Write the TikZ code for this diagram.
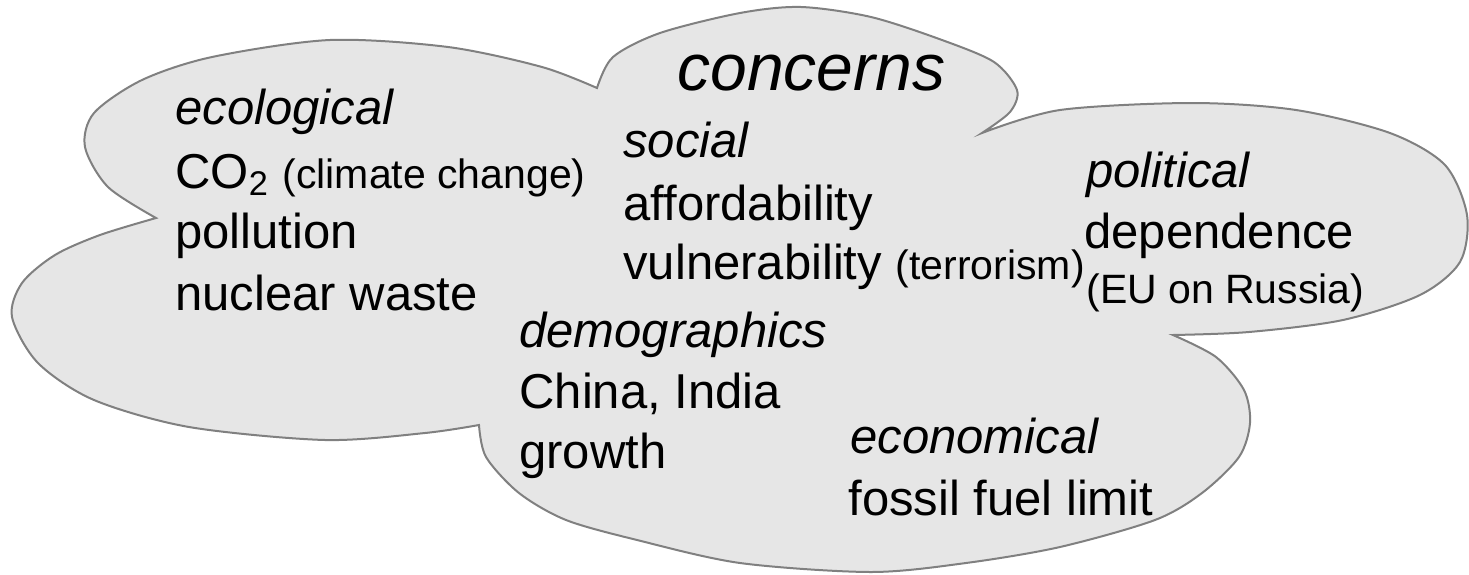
\documentclass[tikz,border=0pt]{standalone}
\usepackage{fontspec}
\setmainfont{Liberation Sans}
\usepackage{tikz}

\definecolor{cloudfill}{RGB}{230,230,230}
\definecolor{cloudline}{RGB}{128,128,128}
\tikzset{
  head/.style={anchor=base west, inner sep=0pt, font=\fontsize{24.5}{29}\selectfont\itshape},
  item/.style={anchor=base west, inner sep=0pt, font=\fontsize{24.5}{29}\selectfont},
}
\newcommand{\smalltxt}[1]{{\fontsize{20.5}{24}\selectfont #1}}

\begin{document}
\begin{tikzpicture}[x=0.5pt,y=-0.5pt]
  \useasboundingbox (0,0) rectangle (1469,574);

  % Wolke
  \filldraw[fill=cloudfill, draw=cloudline, line width=1pt]
    plot[smooth] coordinates {(156,218) (108,187) (85,147) (94,113) (142,80)
      (212,57) (330,40) (448,47) (542,67) (597,88)}
    -- plot[smooth] coordinates {(597,88) (613,57) (660,33) (740,13) (801,7)
      (871,17) (942,40) (994,62) (1017,90) (1010,112) (982,133)}
    -- plot[smooth] coordinates {(982,133) (1060,110) (1192,103) (1296,110)
      (1390,133) (1445,165) (1467,215) (1460,262) (1420,295) (1343,320)
      (1249,332) (1173,335)}
    -- plot[smooth] coordinates {(1173,335) (1216,357) (1244,390) (1250,423)
      (1239,457) (1202,493) (1155,520) (1060,547) (966,563) (871,572)
      (740,563) (637,540) (566,520) (519,493) (486,457) (479,425)}
    -- plot[smooth] coordinates {(479,425) (425,433) (325,440) (189,427)
      (94,400) (38,363) (12,317) (22,283) (55,255) (100,235) (156,218)}
    -- cycle;

  \node[head, font=\fontsize{33}{40}\selectfont\itshape] (title) at (677,90) {concerns};

  \node[head] (eco) at (175,124) {ecological};
  \node[item] (co2) at (175,188) {CO\textsubscript{2} \smalltxt{(climate change)}};
  \node[item] (poll) at (175,248) {pollution};
  \node[item] (waste) at (175,310) {nuclear waste};

  \node[head] (soc) at (623,157) {social};
  \node[item] (afford) at (623,220) {affordability};
  \node[item] (vuln) at (623,279) {vulnerability \smalltxt{(terrorism)}};

  \node[head] (pol) at (1086,187) {political};
  \node[item] (dep) at (1084,248) {dependence};
  \node[item, font=\fontsize{20.5}{24}\selectfont] (eu) at (1086,303) {(EU on Russia)};

  \node[head] (demo) at (519,347) {demographics};
  \node[item] (china) at (519,408) {China, India};
  \node[item] (growth) at (519,468) {growth};

  \node[head] (econ) at (850,453) {economical};
  \node[item] (fossil) at (848,515) {fossil fuel limit};
\end{tikzpicture}
\end{document}
